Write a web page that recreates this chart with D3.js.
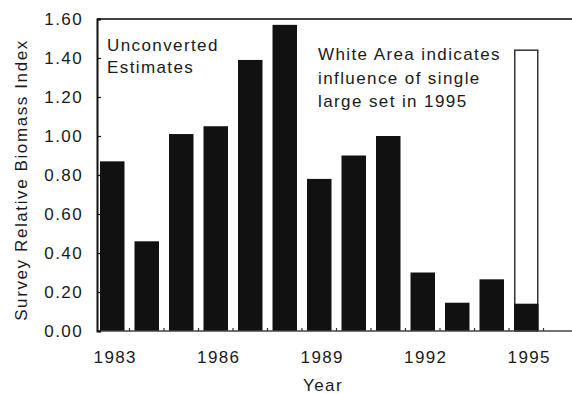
<!DOCTYPE html>
<html>
<head>
<meta charset="utf-8">
<script src="https://cdn.jsdelivr.net/npm/d3@7"></script>
<style>
  html, body { margin: 0; padding: 0; background: #fff; }
  svg { display: block; }
  text { font-family: "Liberation Sans", Arial, Helvetica, sans-serif; fill: #1a1a1a; letter-spacing: 1.4px; }
</style>
</head>
<body>
<svg id="chart" width="572" height="394"></svg>
<script>
// Survey relative biomass index by year (unconverted estimates)
const years = [1983, 1984, 1985, 1986, 1987, 1988, 1989, 1990, 1991, 1992, 1993, 1994, 1995];
const biomass = [0.87, 0.46, 1.01, 1.05, 1.39, 1.57, 0.78, 0.90, 1.00, 0.30, 0.145, 0.265, 0.14];
// 1995 value including the single large set (drawn as the open bar)
const largeSetYear = 1995;
const largeSetValue = 1.44;
const yTicks = [0, 0.2, 0.4, 0.6, 0.8, 1.0, 1.2, 1.4, 1.6];
const xTickYears = [1983, 1986, 1989, 1992, 1995];
const noteLeft = ["Unconverted", "Estimates"];
const noteRight = ["White Area indicates", "influence of single", "large set in 1995"];

const svg = d3.select("#chart");
const W = 572;
const plotLeft = 97, plotTop = 19, plotBottom = 331;
const fontSize = "17px";

const x = d3.scaleBand()
  .domain(years)
  .range([plotLeft, 541.5])
  .paddingInner(0.29)
  .paddingOuter(0.087);

const y = d3.scaleLinear().domain([0, 1.6]).range([plotBottom, plotTop]);

// open bar for the 1995 large-set influence
svg.append("rect")
  .attr("x", x(largeSetYear) + 0.75)
  .attr("y", y(largeSetValue))
  .attr("width", x.bandwidth() - 1.5)
  .attr("height", y(0) - y(largeSetValue))
  .attr("fill", "#fff")
  .attr("stroke", "#333")
  .attr("stroke-width", 1.5);

// solid bars
svg.selectAll("rect.bar")
  .data(years.map((yr, i) => ({ yr, v: biomass[i] })))
  .join("rect")
  .attr("class", "bar")
  .attr("x", d => x(d.yr))
  .attr("y", d => y(d.v))
  .attr("width", x.bandwidth())
  .attr("height", d => y(0) - y(d.v))
  .attr("fill", "#111");

// frame: top line and baseline run to the page edge
svg.append("line")
  .attr("x1", plotLeft).attr("x2", W).attr("y1", plotTop).attr("y2", plotTop)
  .attr("stroke", "#444").attr("stroke-width", 2);
svg.append("line")
  .attr("x1", plotLeft).attr("x2", W).attr("y1", plotBottom).attr("y2", plotBottom)
  .attr("stroke", "#444").attr("stroke-width", 1.5);

// y axis with inward ticks
const yAxis = d3.axisLeft(y)
  .tickValues(yTicks)
  .tickSize(-4)
  .tickPadding(14)
  .tickFormat(d3.format(".2f"));
const gy = svg.append("g").attr("transform", `translate(${plotLeft},0)`).call(yAxis);
gy.select(".domain").attr("stroke", "#111").attr("stroke-width", 2);
gy.selectAll(".tick line").attr("stroke", "#111").attr("stroke-width", 1.2);
gy.selectAll(".tick text")
  .style("font-family", "'Liberation Sans', Arial, sans-serif")
  .style("font-size", fontSize)
  .attr("fill", "#1a1a1a");

// small inward ticks between categories on the baseline
const gapOffset = (x.step() * x.paddingInner()) / 2;
const gapXs = years.slice(1).map(d => x(d) - gapOffset)
  .concat([x(years[years.length - 1]) + x.bandwidth() + gapOffset]);
svg.selectAll("line.gap")
  .data(gapXs)
  .join("line")
  .attr("class", "gap")
  .attr("x1", d => d)
  .attr("x2", d => d)
  .attr("y1", plotBottom)
  .attr("y2", plotBottom - 3)
  .attr("stroke", "#333")
  .attr("stroke-width", 1.2);

// x tick labels
svg.selectAll("text.xlab")
  .data(xTickYears)
  .join("text")
  .attr("class", "xlab")
  .attr("x", d => x(d) + x.bandwidth() / 2 + 3)
  .attr("y", 363)
  .attr("text-anchor", "middle")
  .style("font-size", fontSize)
  .text(d => d);

// axis titles
svg.append("text")
  .attr("x", 323)
  .attr("y", 391)
  .attr("text-anchor", "middle")
  .style("font-size", fontSize)
  .text("Year");

svg.append("text")
  .attr("transform", "translate(27,180) rotate(-90)")
  .attr("text-anchor", "middle")
  .style("font-size", fontSize)
  .style("letter-spacing", "1.6px")
  .text("Survey Relative Biomass Index");

// annotations
function note(lines, x0, y0, lead) {
  const t = svg.append("text").attr("x", x0).attr("y", y0).style("font-size", fontSize);
  t.selectAll("tspan")
    .data(lines)
    .join("tspan")
    .attr("x", x0)
    .attr("dy", (d, i) => (i === 0 ? 0 : lead))
    .text(d => d);
}
note(noteLeft, x(1983) + 7, 51, 22);
note(noteRight, x(1989) + 11, 60, 23.5);
</script>
</body>
</html>
